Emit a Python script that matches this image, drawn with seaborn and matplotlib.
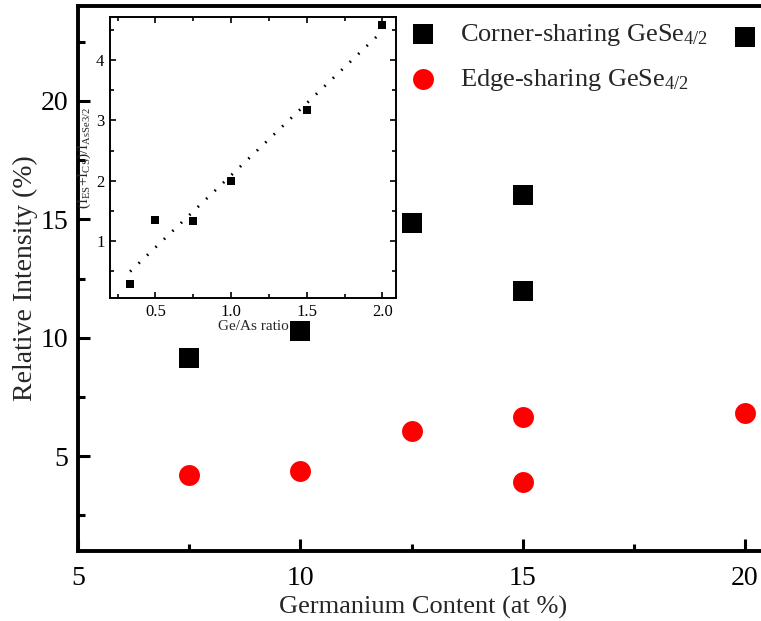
import numpy as np
import pandas as pd
import matplotlib
matplotlib.use("Agg")
import matplotlib.pyplot as plt
from matplotlib.ticker import MultipleLocator
import seaborn as sns

# ---- data ----
cs_label = "Corner-sharing GeSe$_{4/2}$"
es_label = "Edge-sharing GeSe$_{4/2}$"
ge_content_cs = [7.5, 10, 12.5, 15, 15, 20]
rel_int_cs = [9.13, 10.28, 14.86, 16.03, 11.98, 22.7]
ge_content_es = [7.5, 10, 12.5, 15, 15, 20]
rel_int_es = [4.19, 4.36, 6.08, 6.65, 3.93, 6.81]
ge_as_ratio = [0.333, 0.5, 0.75, 1.0, 1.5, 2.0]
ratio_intensity = [0.29, 1.34, 1.33, 2.0, 3.18, 4.59]

sns.set_theme(style="ticks")
plt.rcParams["font.family"] = ["Liberation Serif", "DejaVu Serif"]
plt.rcParams["mathtext.fontset"] = "custom"
plt.rcParams["mathtext.rm"] = "Liberation Serif"
plt.rcParams["mathtext.it"] = "Liberation Serif:italic"
plt.rcParams["mathtext.bf"] = "Liberation Serif:bold"

df = pd.DataFrame({
    "x": ge_content_cs + ge_content_es,
    "y": rel_int_cs + rel_int_es,
    "series": [cs_label] * len(ge_content_cs) + [es_label] * len(ge_content_es),
})
df_in = pd.DataFrame({"ratio": ge_as_ratio, "inten": ratio_intensity})

fig = plt.figure(figsize=(7.61, 6.21), dpi=100)
ax = fig.add_axes([78 / 761, 1 - 551 / 621, (15.5 * 44.47) / 761, 545 / 621])

sns.scatterplot(data=df[df.series == cs_label], x="x", y="y", ax=ax,
                marker="s", color="black", s=190, linewidth=0, label=cs_label)
sns.scatterplot(data=df[df.series == es_label], x="x", y="y", ax=ax,
                marker="o", color="red", s=227, linewidth=0, label=es_label)

ax.set_xlim(5, 20.5)
ax.set_ylim(1, 24)
ax.xaxis.set_major_locator(MultipleLocator(5))
ax.xaxis.set_minor_locator(MultipleLocator(2.5))
ax.yaxis.set_major_locator(MultipleLocator(5))
ax.yaxis.set_minor_locator(MultipleLocator(2.5))
ax.tick_params(which="both", direction="in", width=2.2, colors="black",
               top=False, right=False, labelsize=20)
ax.tick_params(axis="x", pad=11)
ax.tick_params(axis="y", pad=7)
ax.tick_params(which="major", length=8.5)
ax.tick_params(which="minor", length=5)
for sp in ax.spines.values():
    sp.set_linewidth(2.8)
    sp.set_color("black")
ax.set_xlabel("Germanium Content (at %)", fontsize=19, labelpad=3)
ax.set_ylabel("Relative Intensity (%)", fontsize=20, labelpad=2)

leg = ax.legend(loc="upper left", bbox_to_anchor=(404.5 / 761, 1 - 17 / 621),
                bbox_transform=fig.transFigure, frameon=False, fontsize=19,
                handlelength=1.0, handletextpad=0.92, labelspacing=0.7,
                borderpad=0.2, borderaxespad=0)

# ---- inset ----
axi = fig.add_axes([110 / 761, 1 - 298 / 621, 286 / 761, 281 / 621])
axi.set_facecolor("white")
sns.regplot(data=df_in, x="ratio", y="inten", ax=axi, ci=None, truncate=True,
            scatter=False,
            line_kws=dict(color="black", linewidth=2, linestyle=(0, (0.6, 3.6))))
sns.scatterplot(data=df_in, x="ratio", y="inten", ax=axi, marker="s",
                color="black", s=40, linewidth=0, zorder=3)
axi.set_xlim(0.2, 2.09)
axi.set_ylim(0.05, 4.72)
axi.xaxis.set_major_locator(MultipleLocator(0.5))
axi.xaxis.set_minor_locator(MultipleLocator(0.25))
axi.yaxis.set_major_locator(MultipleLocator(1))
axi.yaxis.set_minor_locator(MultipleLocator(0.5))
axi.tick_params(which="both", direction="in", width=1.2, colors="black",
                top=True, right=True, labelsize=12, pad=4)
axi.tick_params(which="major", length=4)
axi.tick_params(which="minor", length=3)
for sp in axi.spines.values():
    sp.set_linewidth(1.4)
    sp.set_color("black")
axi.set_xlabel("Ge/As ratio", fontsize=11, labelpad=0)
axi.set_ylabel(r"(I$_{\mathrm{ES}}$+I$_{\mathrm{CS}}$)/I$_{\mathrm{AsSe3/2}}$",
               fontsize=11, labelpad=2)

fig.savefig("out.png", dpi=100)
